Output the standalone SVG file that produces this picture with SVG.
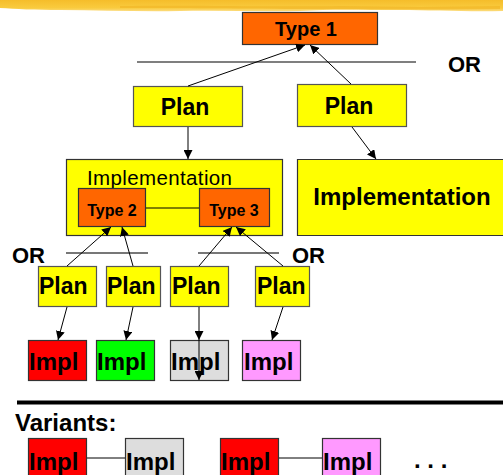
<svg xmlns="http://www.w3.org/2000/svg" width="503" height="475" viewBox="0 0 503 475">
  <style>
    .box { stroke: #333; stroke-width: 1.2; }
    .plan { fill: #ffff00; stroke: #555; stroke-width: 1.2; }
    .type { fill: #ff6600; stroke: #333; stroke-width: 1.2; }
    .lbl { font-family: "Liberation Sans", Arial, sans-serif; font-weight: bold; fill: #000; }
    .big { font-size: 23px; }
    .impl { font-size: 24px; }
    .small { font-size: 16px; }
    .or { font-size: 22px; }
    .edge { stroke: #000; stroke-width: 1; fill: none; marker-end: url(#ah); }
    .rule { stroke: #000; stroke-width: 1.2; }
    .grey { stroke: #777; stroke-width: 2; }
  </style>
  <defs>
    <marker id="ah" viewBox="0 0 10 10" refX="10" refY="5" markerWidth="9" markerHeight="9" markerUnits="userSpaceOnUse" orient="auto">
      <path d="M0,0 L10,5 L0,10 z" fill="#000"/>
    </marker>
    <linearGradient id="band" x1="0" y1="0" x2="0" y2="1">
      <stop offset="0" stop-color="#f5bd2a"/>
      <stop offset="0.7" stop-color="#f9cb3e"/>
      <stop offset="1" stop-color="#fcdc80"/>
    </linearGradient>
  </defs>

  <rect width="503" height="475" fill="#fff"/>

  <!-- brush band along the top edge -->
  <g id="band-top">
    <path d="M0,0 H503 V11 C470,12 430,10 400,10 C360,10 330,9 300,11 C260,12 220,10 180,11 C140,12 100,10 60,10 C35,10 15,9 0,8 Z" fill="url(#band)"/>
    <path d="M120,6 C200,5 260,7 340,6 L420,7 L500,6 V9 C440,10 380,9 320,9 C260,9 200,8 120,8 Z" fill="#f0b425" opacity="0.6"/>
  </g>

  <!-- separators -->
  <line class="rule" x1="137" y1="62" x2="416" y2="62"/>
  <line class="grey" x1="66" y1="253" x2="148" y2="253"/>
  <line class="grey" x1="198" y1="253" x2="279" y2="253"/>
  <line x1="17" y1="402.5" x2="503" y2="402.5" stroke="#000" stroke-width="4"/>

  <text class="lbl or" x="448" y="72">OR</text>
  <text class="lbl or" x="12" y="263">OR</text>
  <text class="lbl or" x="292" y="263">OR</text>
  <text class="lbl impl" x="15" y="431">Variants:</text>

  <!-- nodes -->
  <g id="type1">
    <rect class="type" x="242.5" y="12.5" width="135" height="32"/>
    <text class="lbl" x="306" y="36" font-size="20" text-anchor="middle">Type 1</text>
  </g>
  <g id="plan-a">
    <rect class="plan" x="133.5" y="86.5" width="109" height="40"/>
    <text class="lbl big" x="185" y="115" text-anchor="middle">Plan</text>
  </g>
  <g id="plan-b">
    <rect class="plan" x="297.5" y="84.5" width="109" height="42"/>
    <text class="lbl big" x="349" y="114" text-anchor="middle">Plan</text>
  </g>
  <g id="impl-a">
    <rect x="66.5" y="159.5" width="216" height="76" fill="#ffff00" class="box"/>
    <text x="87" y="185" font-family="Liberation Sans, Arial, sans-serif" font-size="20.5" fill="#000" textLength="145">Implementation</text>
  </g>
  <g id="type2">
    <rect class="type" x="78.5" y="188.5" width="67" height="38"/>
    <text class="lbl small" x="112" y="216" text-anchor="middle">Type 2</text>
  </g>
  <g id="type3">
    <rect class="type" x="199.5" y="188.5" width="70" height="38"/>
    <text class="lbl small" x="234" y="216" text-anchor="middle">Type 3</text>
  </g>
  <g id="impl-b">
    <path d="M505,159.5 H297.5 V235.5 H505" fill="#ffff00" class="box"/>
    <text class="lbl impl" x="402" y="205" text-anchor="middle">Implementation</text>
  </g>

  <g id="plan-1">
    <rect class="plan" x="38.5" y="266.5" width="58" height="40"/>
    <text class="lbl big" x="39" y="294">Plan</text>
  </g>
  <g id="plan-2">
    <rect class="plan" x="106.5" y="266.5" width="54" height="40"/>
    <text class="lbl big" x="107" y="294">Plan</text>
  </g>
  <g id="plan-3">
    <rect class="plan" x="170.5" y="266.5" width="58" height="40"/>
    <text class="lbl big" x="172" y="294">Plan</text>
  </g>
  <g id="plan-4">
    <rect class="plan" x="255.5" y="266.5" width="54" height="40"/>
    <text class="lbl big" x="257" y="294">Plan</text>
  </g>

  <g id="impl-red">
    <rect class="box" x="28.5" y="340.5" width="58" height="40" fill="#ff0000"/>
    <text class="lbl impl" x="29" y="370">Impl</text>
  </g>
  <g id="impl-green">
    <rect class="box" x="96.5" y="340.5" width="58" height="40" fill="#00ff00"/>
    <text class="lbl impl" x="97" y="370">Impl</text>
  </g>
  <g id="impl-grey">
    <rect class="box" x="170.5" y="340.5" width="58" height="40" fill="#dddddd"/>
    <text class="lbl impl" x="171" y="370">Impl</text>
  </g>
  <g id="impl-pink">
    <rect class="box" x="242.5" y="340.5" width="58" height="40" fill="#ff99ff"/>
    <text class="lbl impl" x="244" y="370">Impl</text>
  </g>

  <!-- variants row -->
  <g id="variant-1a">
    <rect class="box" x="28.5" y="438.5" width="58" height="40" fill="#ff0000"/>
    <text class="lbl impl" x="29" y="470">Impl</text>
  </g>
  <g id="variant-1b">
    <rect class="box" x="125.5" y="438.5" width="58" height="40" fill="#dddddd"/>
    <text class="lbl impl" x="126" y="470">Impl</text>
  </g>
  <g id="variant-2a">
    <rect class="box" x="220.5" y="438.5" width="58" height="40" fill="#ff0000"/>
    <text class="lbl impl" x="221" y="470">Impl</text>
  </g>
  <g id="variant-2b">
    <rect class="box" x="322.5" y="438.5" width="58" height="40" fill="#ff99ff"/>
    <text class="lbl impl" x="323" y="470">Impl</text>
  </g>
  <text class="lbl impl" x="414" y="468">. . .</text>

  <!-- connectors -->
  <g id="connectors">
    <path class="edge" d="M188,86 L305,45"/>
    <path class="edge" d="M351,84 L310,45"/>
    <path class="edge" d="M188,127 L188,159"/>
    <path class="edge" d="M352,127 L376,159"/>
    <line x1="146" y1="208" x2="199" y2="208" stroke="#000" stroke-width="1"/>
    <path class="edge" d="M67,266 L111,227"/>
    <path class="edge" d="M133,266 L122,227"/>
    <path class="edge" d="M199,266 L232,227"/>
    <path class="edge" d="M283,266 L236,227"/>
    <path class="edge" d="M67,307 L58,340"/>
    <path class="edge" d="M133,307 L126,340"/>
    <path class="edge" d="M199,307 L199,340"/>
    <path class="edge" d="M199,340 L199,380"/>
    <path class="edge" d="M283,307 L272,340"/>
    <line x1="87" y1="458" x2="125" y2="458" stroke="#000" stroke-width="1"/>
    <line x1="279" y1="458" x2="322" y2="458" stroke="#000" stroke-width="1"/>
  </g>
</svg>
